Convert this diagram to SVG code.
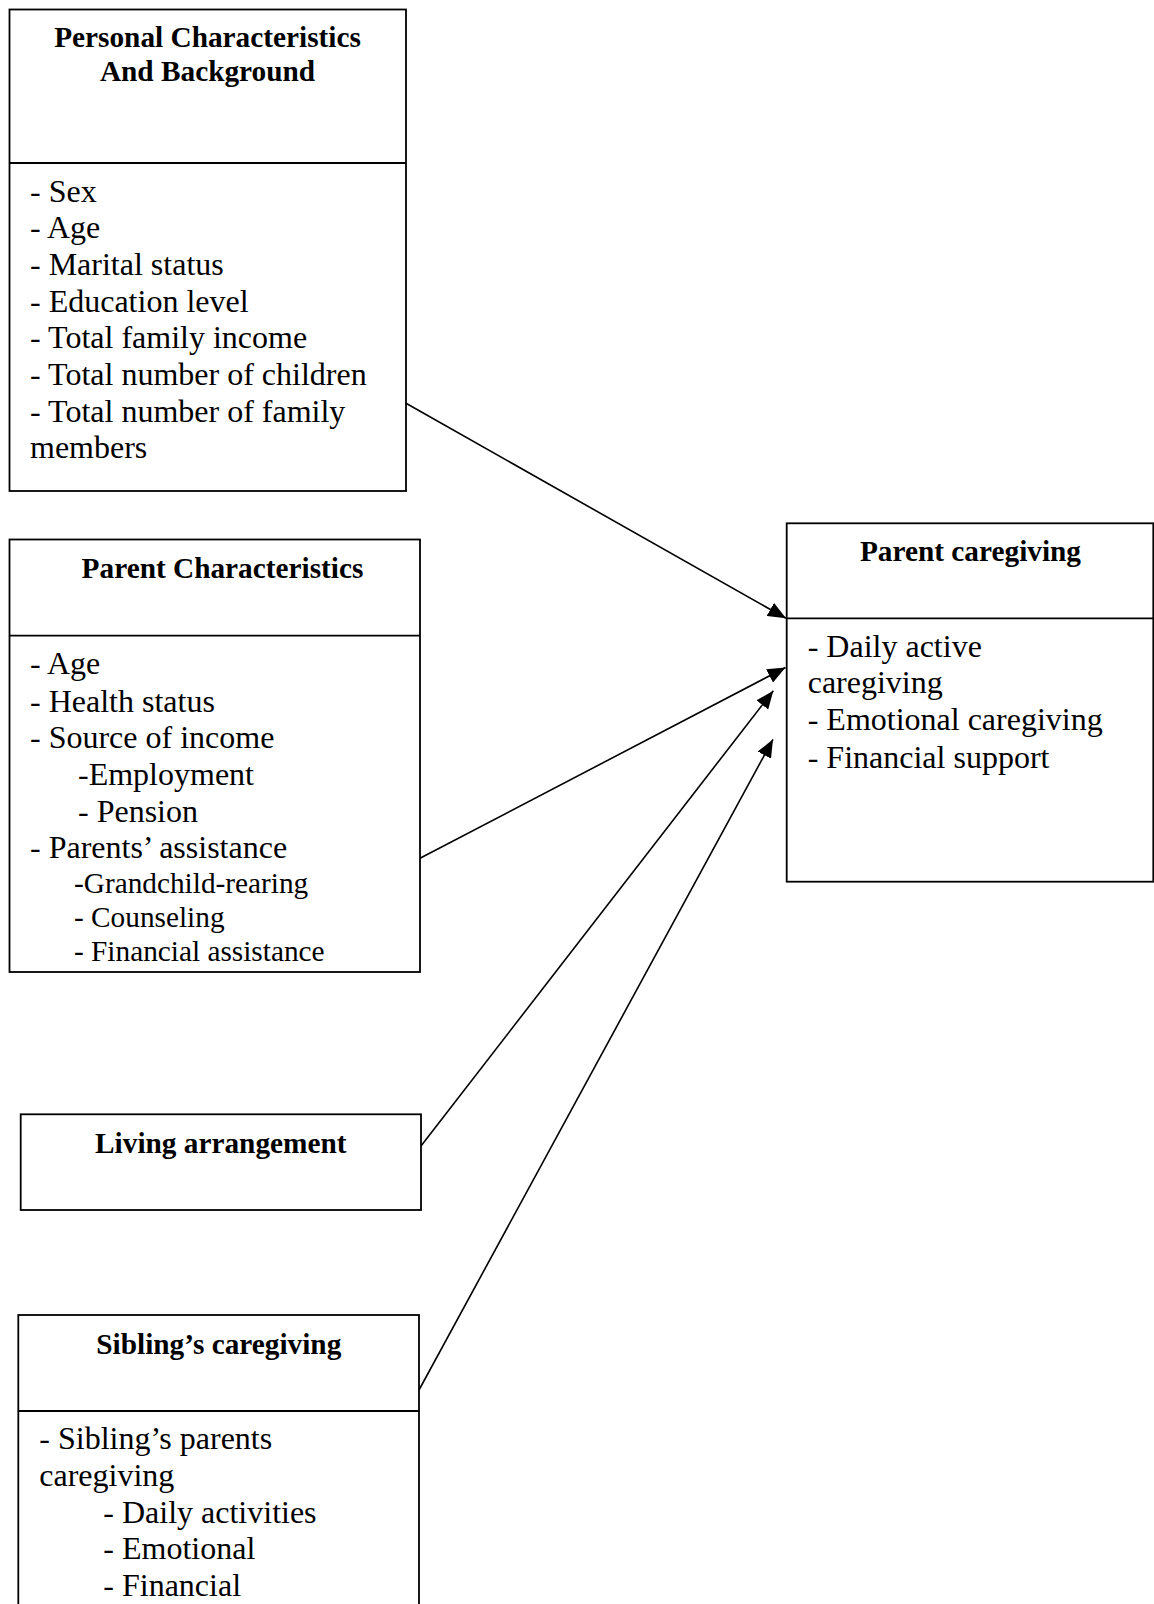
<svg xmlns="http://www.w3.org/2000/svg" width="1154" height="1604" viewBox="0 0 1154 1604">
<defs>
<style>
.box{fill:none;stroke:#000;stroke-width:1.8}
.div{stroke:#000;stroke-width:1.8}
.t{font-family:"Liberation Serif","Times New Roman",serif;font-weight:bold;font-size:29.3px;text-anchor:middle;fill:#000}
.b{font-family:"Liberation Serif","Times New Roman",serif;font-size:32px;fill:#000}
.s{font-family:"Liberation Serif","Times New Roman",serif;font-size:29.3px;fill:#000}
.c{stroke:#000;stroke-width:1.6;fill:none}
</style>
<marker id="ah" markerUnits="userSpaceOnUse" markerWidth="19" markerHeight="15" refX="18" refY="7.5" orient="auto">
<path d="M0,0 L18,7.5 L0,15 Z" fill="#000"/>
</marker>
</defs>
<rect width="1154" height="1604" fill="#fff"/>

<g id="personal">
<rect class="box" x="9.5" y="9.5" width="396.5" height="481.5"/>
<line class="div" x1="9.5" y1="163" x2="406" y2="163"/>
<text class="t" x="207.5" y="47">Personal Characteristics</text>
<text class="t" x="207.5" y="81">And Background</text>
<text class="b" x="30" y="201.7">- Sex</text>
<text class="b" x="30" y="238.3">- Age</text>
<text class="b" x="30" y="275">- Marital status</text>
<text class="b" x="30" y="311.7">- Education level</text>
<text class="b" x="30" y="348.3">- Total family income</text>
<text class="b" x="30" y="385">- Total number of children</text>
<text class="b" x="30" y="421.7">- Total number of family</text>
<text class="b" x="30" y="458.3">members</text>
</g>

<g id="parent-char">
<rect class="box" x="9.5" y="539.5" width="410.5" height="432.5"/>
<line class="div" x1="9.5" y1="635.7" x2="420" y2="635.7"/>
<text class="t" x="222.5" y="578.3">Parent Characteristics</text>
<text class="b" x="30" y="674">- Age</text>
<text class="b" x="30" y="711.7">- Health status</text>
<text class="b" x="30" y="748.3">- Source of income</text>
<text class="b" x="78" y="785">-Employment</text>
<text class="b" x="78" y="821.7">- Pension</text>
<text class="b" x="30" y="858.3">- Parents’ assistance</text>
<text class="s" x="74" y="892.7">-Grandchild-rearing</text>
<text class="s" x="74" y="927.3">- Counseling</text>
<text class="s" x="74" y="960.7">- Financial assistance</text>
</g>

<g id="parent-caregiving">
<rect class="box" x="786.7" y="523.3" width="366.6" height="358.4"/>
<line class="div" x1="786.7" y1="618.3" x2="1153.3" y2="618.3"/>
<text class="t" x="970.5" y="560.7">Parent caregiving</text>
<text class="b" x="807.7" y="656.7">- Daily active</text>
<text class="b" x="807.7" y="693.3">caregiving</text>
<text class="b" x="807.7" y="730">- Emotional caregiving</text>
<text class="b" x="807.7" y="768.3">- Financial support</text>
</g>

<g id="living">
<rect class="box" x="20.7" y="1114.3" width="400.3" height="95.7"/>
<text class="t" x="220.8" y="1152.7">Living arrangement</text>
</g>

<g id="sibling">
<rect class="box" x="18.3" y="1315" width="400.7" height="320"/>
<line class="div" x1="18.3" y1="1411" x2="419" y2="1411"/>
<text class="t" x="218.8" y="1354">Sibling’s caregiving</text>
<text class="b" x="39.3" y="1449.3">- Sibling’s parents</text>
<text class="b" x="39.3" y="1486">caregiving</text>
<text class="b" x="103.3" y="1522.7">- Daily activities</text>
<text class="b" x="103.3" y="1559.3">- Emotional</text>
<text class="b" x="103.3" y="1596">- Financial</text>
</g>

<g id="connectors">
<line class="c" x1="406" y1="403.3" x2="786" y2="618.3" marker-end="url(#ah)"/>
<line class="c" x1="420" y1="858.3" x2="785.5" y2="667.5" marker-end="url(#ah)"/>
<line class="c" x1="421" y1="1146" x2="773.3" y2="690.7" marker-end="url(#ah)"/>
<line class="c" x1="419" y1="1390" x2="773" y2="739.3" marker-end="url(#ah)"/>
</g>
</svg>
